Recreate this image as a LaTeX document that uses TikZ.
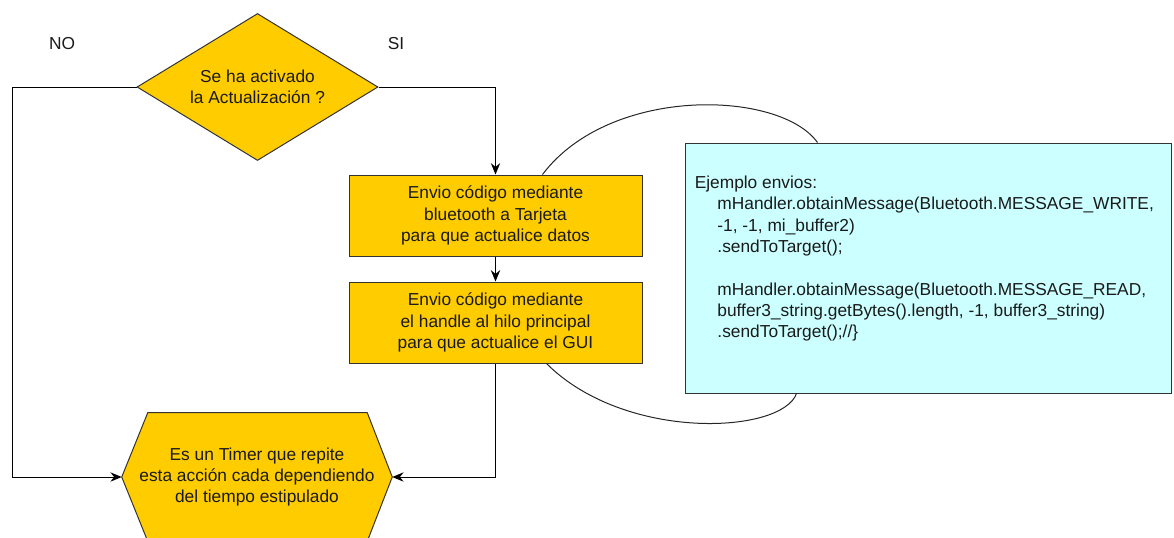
\documentclass[tikz,border=0pt]{standalone}
\usepackage{fontspec}
\setmainfont{Liberation Sans}
\usetikzlibrary{arrows.meta,shapes.geometric,calc,backgrounds}
\definecolor{boxyellow}{HTML}{FFCC00}
\definecolor{notecyan}{HTML}{CCFFFF}
\definecolor{edgegray}{HTML}{333333}
\definecolor{inkdark}{HTML}{1A1A1A}
\begin{document}
\begin{tikzpicture}[x=0.75pt,y=-0.75pt,
  txt/.style={font=\fontsize{13}{16}\selectfont, text=inkdark, align=center},
  stepbox/.style={txt, draw=edgegray, line width=0.75pt, fill=boxyellow,
    minimum width=293*0.75pt, minimum height=81*0.75pt, inner sep=0pt},
  decision/.style={txt, diamond, draw=edgegray, line width=0.75pt, fill=boxyellow,
    aspect=1.64, inner sep=0pt, minimum width=241*0.75pt, minimum height=147*0.75pt},
  hexbox/.style={txt, inner sep=0pt, minimum width=270*0.75pt, minimum height=128*0.75pt},
  hexline/.style={draw=edgegray, line width=0.75pt, fill=boxyellow},
  notebox/.style={draw=edgegray, line width=0.75pt, fill=notecyan, inner sep=0pt,
    minimum width=486*0.75pt, minimum height=250*0.75pt},
  notetext/.style={font=\fontsize{13}{16}\selectfont, text=inkdark, align=left, inner sep=0pt},
  flow/.style={draw=black, line width=0.75pt, -{Stealth[length=8.5pt,width=7pt,inset=2.8pt]}},
  curve/.style={draw=black!85, line width=0.75pt},
  tag/.style={txt}
]
\useasboundingbox (0,0) rectangle (1174,537);

% decision and process steps
\node[decision] (q) at (257.5,87) {Se ha activado\\la Actualización ?};
\node[stepbox] (b1) at (495.5,215.5) {Envio código mediante\\bluetooth a Tarjeta\\para que actualice datos};
\node[stepbox] (b2) at (495.5,322.5) {Envio código mediante\\el handle al hilo principal\\para que actualice el GUI};

% timer hexagon: text node plus outline behind it
\node[hexbox] (t) at (257,477) {Es un Timer que repite\\esta acción cada dependiendo\\del tiempo estipulado};
\begin{scope}[on background layer]
  \draw[hexline] (t.west) -- ($(t.north west)+(26,0)$) -- ($(t.north east)+(-25,0)$)
    -- (t.east) -- ($(t.south east)+(-25,0)$) -- ($(t.south west)+(26,0)$) -- cycle;
\end{scope}

% code note
\node[notebox] (n) at (928,268) {};
\node[notetext, anchor=north west] (ntext) at ($(n.north west)+(10,33)$)
  {Ejemplo envios:\\
   \hspace*{17pt}mHandler.obtainMessage(Bluetooth.MESSAGE\_WRITE,\\
   \hspace*{17pt}-1, -1, mi\_buffer2)\\
   \hspace*{17pt}.sendToTarget();\\[16pt]
   \hspace*{17pt}mHandler.obtainMessage(Bluetooth.MESSAGE\_READ,\\
   \hspace*{17pt}buffer3\_string.getBytes().length, -1, buffer3\_string)\\
   \hspace*{17pt}.sendToTarget();//\}};

% branch labels
\node[tag] (no) at (62,44) {NO};
\node[tag] (si) at (396,44) {SI};

% flow connectors
\coordinate (noturn) at (12,87);
\draw[flow] (q.east) -| (b1.north);
\draw[flow] (b1.south) -- (b2.north);
\draw[flow] (b2.south) |- (t.east);
\draw[flow] (q.west) -- (noturn) |- (t.west);

% curved links between the steps and the note
\coordinate (c1) at ($(b1.north west)+(194,0)$);
\coordinate (c2) at ($(n.north west)+(133,0)$);
\coordinate (c3) at ($(b2.south west)+(198,0)$);
\coordinate (c4) at ($(n.south west)+(112,0)$);
\draw[curve] (c1) .. controls (610,85) and (780,90) .. (c2);
\draw[curve] (c3) .. controls (625,442) and (782,434) .. (c4);
\end{tikzpicture}
\end{document}
